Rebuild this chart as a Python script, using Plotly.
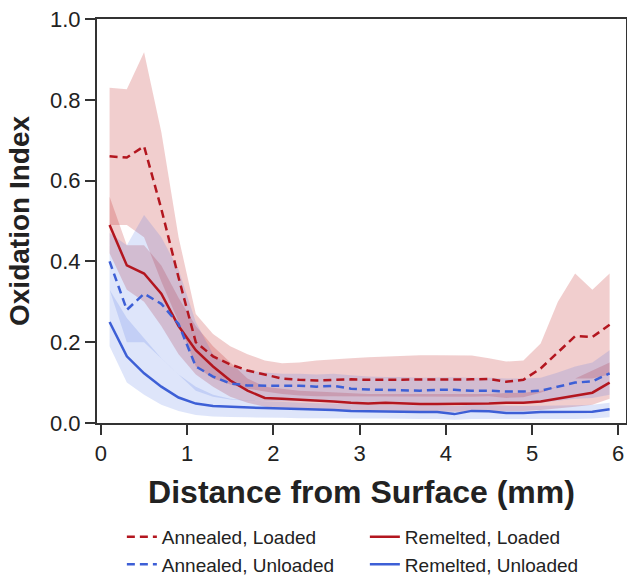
import plotly.graph_objects as go

# depth positions (mm)
depth = [0.1, 0.3, 0.5, 0.7, 0.9, 1.1, 1.3, 1.5, 1.7, 1.9,
         2.1, 2.3, 2.5, 2.7, 2.9, 3.1, 3.3, 3.5, 3.7, 3.9,
         4.1, 4.3, 4.5, 4.7, 4.9, 5.1, 5.3, 5.5, 5.7, 5.9]

# Annealed, Loaded
ann_load = [0.66, 0.657, 0.685, 0.53, 0.36, 0.20, 0.165, 0.145, 0.13, 0.12,
            0.11, 0.107, 0.105, 0.107, 0.108, 0.107, 0.107, 0.108, 0.107, 0.108,
            0.108, 0.108, 0.109, 0.102, 0.107, 0.135, 0.175, 0.215, 0.213, 0.243]
ann_load_hi = [0.83, 0.826, 0.918, 0.72, 0.46, 0.27, 0.22, 0.19, 0.17, 0.155,
               0.148, 0.15, 0.155, 0.157, 0.16, 0.163, 0.165, 0.167, 0.168, 0.168,
               0.168, 0.167, 0.16, 0.152, 0.155, 0.197, 0.30, 0.37, 0.33, 0.37]
ann_load_lo = [0.49, 0.49, 0.46, 0.35, 0.25, 0.14, 0.11, 0.095, 0.085, 0.078,
               0.072, 0.068, 0.066, 0.066, 0.066, 0.065, 0.065, 0.065, 0.065, 0.065,
               0.065, 0.065, 0.066, 0.062, 0.064, 0.075, 0.09, 0.11, 0.11, 0.12]

# Remelted, Loaded
rem_load = [0.49, 0.39, 0.37, 0.32, 0.24, 0.18, 0.14, 0.105, 0.08, 0.062,
            0.06, 0.058, 0.056, 0.053, 0.05, 0.048, 0.05, 0.048, 0.047, 0.047,
            0.047, 0.047, 0.048, 0.05, 0.05, 0.053, 0.06, 0.068, 0.075, 0.10]
rem_load_hi = [0.56, 0.44, 0.44, 0.39, 0.31, 0.24, 0.19, 0.15, 0.11, 0.09,
               0.085, 0.08, 0.078, 0.076, 0.074, 0.072, 0.072, 0.072, 0.071, 0.071,
               0.071, 0.071, 0.072, 0.074, 0.075, 0.08, 0.09, 0.11, 0.13, 0.15]
rem_load_lo = [0.42, 0.33, 0.30, 0.24, 0.17, 0.12, 0.09, 0.065, 0.05, 0.04,
               0.036, 0.034, 0.032, 0.031, 0.03, 0.029, 0.029, 0.028, 0.028, 0.028,
               0.028, 0.028, 0.028, 0.029, 0.03, 0.032, 0.036, 0.04, 0.045, 0.06]

# Annealed, Unloaded
ann_unl = [0.40, 0.28, 0.32, 0.295, 0.245, 0.14, 0.115, 0.098, 0.093, 0.092,
           0.092, 0.092, 0.09, 0.092, 0.085, 0.083, 0.082, 0.082, 0.08, 0.082,
           0.082, 0.08, 0.08, 0.078, 0.078, 0.08, 0.09, 0.10, 0.103, 0.123]
ann_unl_hi = [0.47, 0.44, 0.515, 0.46, 0.38, 0.25, 0.17, 0.14, 0.13, 0.125,
              0.122, 0.122, 0.12, 0.122, 0.118, 0.115, 0.114, 0.114, 0.112, 0.113,
              0.113, 0.112, 0.112, 0.11, 0.11, 0.112, 0.125, 0.14, 0.15, 0.18]
ann_unl_lo = [0.33, 0.20, 0.20, 0.16, 0.12, 0.08, 0.065, 0.058, 0.055, 0.054,
              0.054, 0.054, 0.053, 0.053, 0.052, 0.051, 0.05, 0.05, 0.05, 0.05,
              0.05, 0.05, 0.05, 0.049, 0.049, 0.05, 0.055, 0.06, 0.062, 0.07]

# Remelted, Unloaded
rem_unl = [0.25, 0.165, 0.123, 0.09, 0.063, 0.048, 0.042, 0.04, 0.038, 0.037,
           0.036, 0.035, 0.033, 0.032, 0.03, 0.029, 0.028, 0.028, 0.027, 0.027,
           0.022, 0.03, 0.029, 0.025, 0.025, 0.027, 0.027, 0.027, 0.028, 0.034]
rem_unl_hi = [0.33, 0.26, 0.21, 0.16, 0.12, 0.09, 0.07, 0.06, 0.056, 0.054,
              0.052, 0.05, 0.049, 0.048, 0.047, 0.046, 0.045, 0.045, 0.044, 0.044,
              0.042, 0.045, 0.044, 0.042, 0.042, 0.043, 0.043, 0.044, 0.045, 0.05]
rem_unl_lo = [0.19, 0.10, 0.07, 0.045, 0.03, 0.02, 0.016, 0.015, 0.014, 0.013,
              0.013, 0.012, 0.012, 0.012, 0.011, 0.011, 0.011, 0.011, 0.01, 0.01,
              0.008, 0.01, 0.01, 0.009, 0.009, 0.01, 0.01, 0.01, 0.011, 0.014]

RED = "#b3161f"
BLUE = "#3d5fd6"
RED_FILL = "rgba(190,30,30,0.22)"
BLUE_FILL = "rgba(70,110,225,0.18)"

series = [
    ("Annealed, Loaded", ann_load, ann_load_lo, ann_load_hi, RED, RED_FILL, "8px,5px"),
    ("Remelted, Loaded", rem_load, rem_load_lo, rem_load_hi, RED, RED_FILL, "solid"),
    ("Annealed, Unloaded", ann_unl, ann_unl_lo, ann_unl_hi, BLUE, BLUE_FILL, "8px,5px"),
    ("Remelted, Unloaded", rem_unl, rem_unl_lo, rem_unl_hi, BLUE, BLUE_FILL, "solid"),
]

fig = go.Figure()

# shaded bands first
for name, y, lo, hi, col, fill, dash in series:
    fig.add_trace(go.Scatter(
        x=depth + depth[::-1],
        y=hi + lo[::-1],
        fill="toself",
        fillcolor=fill,
        line={"width": 0},
        mode="lines",
        hoverinfo="skip",
        showlegend=False,
    ))

# mean lines on top
for name, y, lo, hi, col, fill, dash in series:
    fig.add_trace(go.Scatter(
        x=depth, y=y, name=name, mode="lines",
        line={"color": col, "width": 2.5, "dash": dash},
    ))

axis_style = dict(
    showline=True, mirror=True, linecolor="#333333", linewidth=2,
    ticks="outside", ticklen=10, tickwidth=2, tickcolor="#333333",
    showgrid=False, zeroline=False, automargin=False,
    ticklabeloverflow="allow",
    tickfont={"size": 22, "color": "#222222"},
)

fig.update_layout(
    width=627, height=576,
    margin={"l": 97, "r": 1, "t": 19, "b": 153},
    paper_bgcolor="white", plot_bgcolor="white",
    font={"family": "Liberation Sans, Arial, sans-serif", "color": "#222222"},
    xaxis=dict(axis_style, range=[-0.046, 6.09], dtick=1, tick0=0,
               title={"text": "<b>Distance from Surface (mm)</b>",
                      "font": {"size": 32}, "standoff": 15}),
    yaxis=dict(axis_style, range=[0, 1.0], dtick=0.2, tickformat=".1f",
               title={"text": "<b>Oxidation Index</b>",
                      "font": {"size": 28}, "standoff": 12}),
    legend={
        "orientation": "h", "x": 0.047, "y": 0.101,
        "xanchor": "left", "yanchor": "top", "yref": "container",
        "entrywidth": 198, "entrywidthmode": "pixels",
        "font": {"size": 19},
        "tracegroupgap": 0,
    },
    showlegend=True,
)

# drop the default page margin so the figure sits at the window's corner
fig.write_html("out.html", config={"displayModeBar": False},
               post_script="document.body.style.margin='0';")
